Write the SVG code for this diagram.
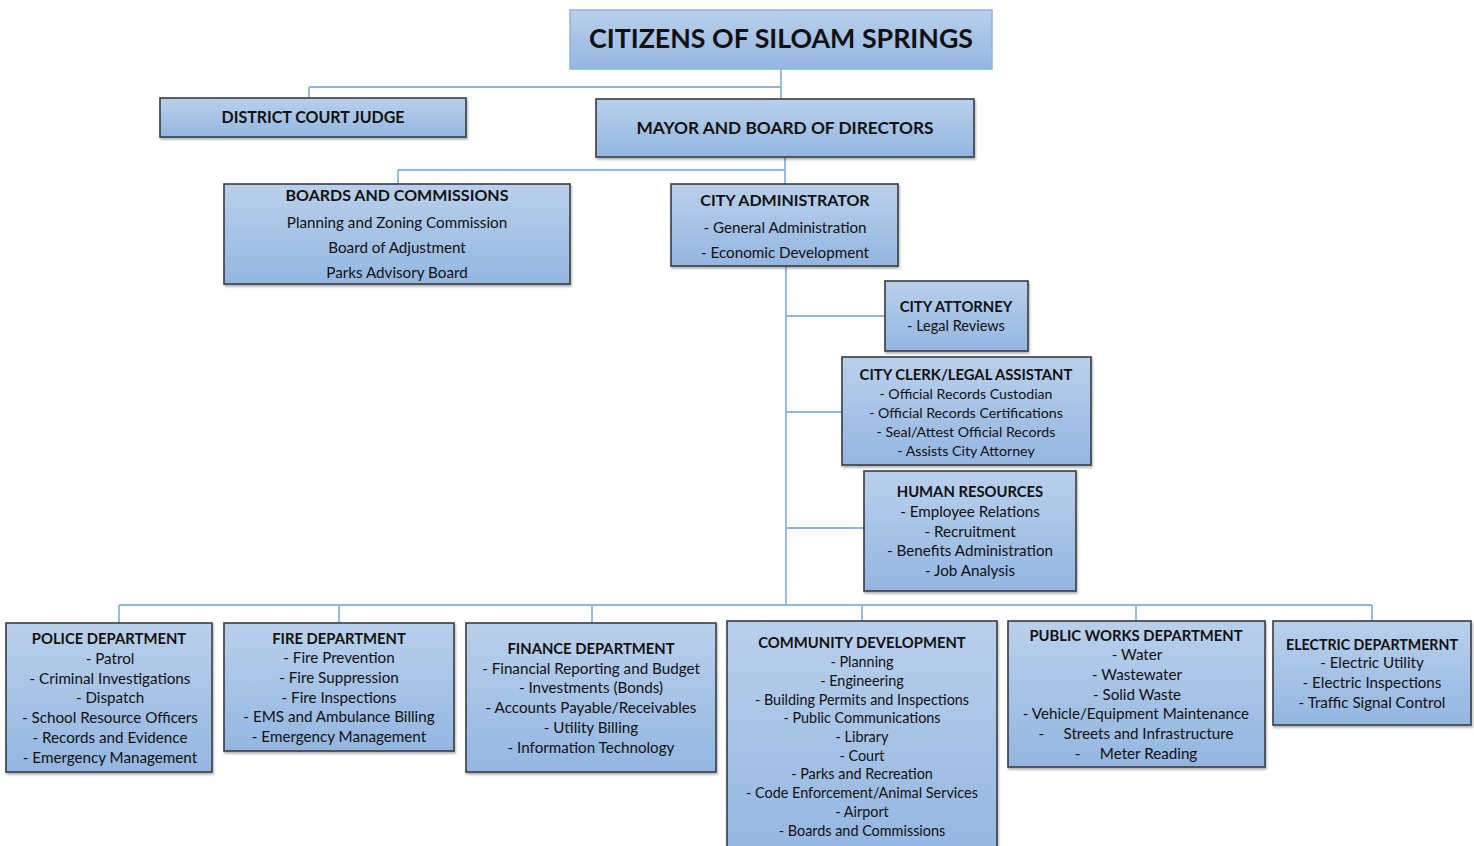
<svg xmlns="http://www.w3.org/2000/svg" width="1474" height="846" viewBox="0 0 1474 846">
<defs>
<linearGradient id="g" x1="0" y1="0" x2="0" y2="1">
<stop offset="0" stop-color="#b9d0ec"/>
<stop offset="1" stop-color="#93b6e1"/>
</linearGradient>
<filter id="sh" x="-5%" y="-5%" width="110%" height="115%">
<feDropShadow dx="1" dy="2" stdDeviation="1.2" flood-color="#000" flood-opacity="0.3"/>
</filter>
</defs>
<style>
.box{fill:url(#g);stroke:#3a3d42;stroke-width:1.6;filter:url(#sh)}
.top{fill:url(#g);stroke:#8db2e0;stroke-width:1.5}
.c{fill:none;stroke:#8cb6e4;stroke-width:1.8}
text{font-family:Lato,"Open Sans","Liberation Sans",sans-serif;fill:#111;text-anchor:middle}
.t{font-weight:bold;font-size:14.8px}
.i{font-size:15.2px}
.h{font-weight:bold;font-size:17px}
</style>
<rect width="1474" height="846" fill="#fff"/>
<g id="connectors">
<path class="c" d="M781 69V87M309 87H781M309 87V98M781 87V99"/>
<path class="c" d="M785 157V170M398 170H785M398 170V184M785 170V184"/>
<path class="c" d="M786 266V605M786 316H885M786 412H842M786 528H864"/>
<path class="c" d="M119 605H1372M119 605V623M339 605V623M592 605V623M862 605V621M1136 605V621M1372 605V621"/>
</g>
<g id="citizens">
<rect class="top" x="570" y="10" width="422" height="59"/>
<text x="781" y="48" style="font-weight:bold;font-size:27px" textLength="384" lengthAdjust="spacingAndGlyphs">CITIZENS OF SILOAM SPRINGS</text>
</g>
<g id="judge">
<rect class="box" x="160" y="98" width="306" height="39"/>
<text class="h" x="313" y="123" textLength="183" lengthAdjust="spacingAndGlyphs">DISTRICT COURT JUDGE</text>
</g>
<g id="mayor">
<rect class="box" x="596" y="99" width="378" height="58"/>
<text class="h" x="785" y="134" textLength="297" lengthAdjust="spacingAndGlyphs">MAYOR AND BOARD OF DIRECTORS</text>
</g>
<g id="boards">
<rect class="box" x="224" y="184" width="346" height="100"/>
<text class="t" x="397" y="201" style="font-size:16px">BOARDS AND COMMISSIONS</text>
<text class="i" x="397" y="228">Planning and Zoning Commission</text>
<text class="i" x="397" y="253">Board of Adjustment</text>
<text class="i" x="397" y="278">Parks Advisory Board</text>
</g>
<g id="administrator">
<rect class="box" x="671" y="184" width="227" height="82"/>
<text class="t" x="785" y="206" style="font-size:16px">CITY ADMINISTRATOR</text>
<text class="i" x="785" y="233">- General Administration</text>
<text class="i" x="785" y="258">- Economic Development</text>
</g>
<g id="attorney">
<rect class="box" x="885" y="281" width="143" height="70"/>
<text class="t" x="956" y="312">CITY ATTORNEY</text>
<text class="i" x="956" y="331" style="font-size:14.5px">- Legal Reviews</text>
</g>
<g id="clerk">
<rect class="box" x="842" y="357" width="249" height="108"/>
<text class="t" x="966" y="380">CITY CLERK/LEGAL ASSISTANT</text>
<text class="i" x="966" y="399" style="font-size:14.2px">- Official Records Custodian</text>
<text class="i" x="966" y="418" style="font-size:14.2px">- Official Records Certifications</text>
<text class="i" x="966" y="437" style="font-size:14.2px">- Seal/Attest Official Records</text>
<text class="i" x="966" y="456" style="font-size:14.2px">- Assists City Attorney</text>
</g>
<g id="hr">
<rect class="box" x="864" y="471" width="212" height="120"/>
<text class="t" x="970" y="497">HUMAN RESOURCES</text>
<text class="i" x="970" y="517">- Employee Relations</text>
<text class="i" x="970" y="537">- Recruitment</text>
<text class="i" x="970" y="556">- Benefits Administration</text>
<text class="i" x="970" y="576">- Job Analysis</text>
</g>
<g id="police">
<rect class="box" x="6" y="623" width="206" height="149"/>
<text class="t" x="109" y="644">POLICE DEPARTMENT</text>
<text class="i" x="110" y="664">- Patrol</text>
<text class="i" x="110" y="684">- Criminal Investigations</text>
<text class="i" x="110" y="703">- Dispatch</text>
<text class="i" x="110" y="723">- School Resource Officers</text>
<text class="i" x="110" y="743">- Records and Evidence</text>
<text class="i" x="110" y="763">- Emergency Management</text>
</g>
<g id="fire">
<rect class="box" x="224" y="623" width="230" height="128"/>
<text class="t" x="339" y="644">FIRE DEPARTMENT</text>
<text class="i" x="339" y="663">- Fire Prevention</text>
<text class="i" x="339" y="683">- Fire Suppression</text>
<text class="i" x="339" y="703">- Fire Inspections</text>
<text class="i" x="339" y="722">- EMS and Ambulance Billing</text>
<text class="i" x="339" y="742">- Emergency Management</text>
</g>
<g id="finance">
<rect class="box" x="466" y="623" width="250" height="149"/>
<text class="t" x="591" y="654">FINANCE DEPARTMENT</text>
<text class="i" x="591" y="674">- Financial Reporting and Budget</text>
<text class="i" x="591" y="693">- Investments (Bonds)</text>
<text class="i" x="591" y="713">- Accounts Payable/Receivables</text>
<text class="i" x="591" y="733">- Utility Billing</text>
<text class="i" x="591" y="753">- Information Technology</text>
</g>
<g id="community">
<rect class="box" x="727" y="621" width="270" height="235"/>
<text class="t" x="862" y="648">COMMUNITY DEVELOPMENT</text>
<text class="i" x="862" y="667" style="font-size:14.4px">- Planning</text>
<text class="i" x="862" y="686" style="font-size:14.4px">- Engineering</text>
<text class="i" x="862" y="705" style="font-size:14.4px">- Building Permits and Inspections</text>
<text class="i" x="862" y="723" style="font-size:14.4px">- Public Communications</text>
<text class="i" x="862" y="742" style="font-size:14.4px">- Library</text>
<text class="i" x="862" y="761" style="font-size:14.4px">- Court</text>
<text class="i" x="862" y="779" style="font-size:14.4px">- Parks and Recreation</text>
<text class="i" x="862" y="798" style="font-size:14.4px">- Code Enforcement/Animal Services</text>
<text class="i" x="862" y="817" style="font-size:14.4px">- Airport</text>
<text class="i" x="862" y="836" style="font-size:14.4px">- Boards and Commissions</text>
</g>
<g id="publicworks">
<rect class="box" x="1008" y="621" width="257" height="146"/>
<text class="t" x="1136" y="641">PUBLIC WORKS DEPARTMENT</text>
<text class="i" x="1137" y="660">- Water</text>
<text class="i" x="1137" y="680">- Wastewater</text>
<text class="i" x="1137" y="700">- Solid Waste</text>
<text class="i" x="1136" y="719">- Vehicle/Equipment Maintenance</text>
<text class="i" x="1136" y="739" xml:space="preserve">-     Streets and Infrastructure</text>
<text class="i" x="1136" y="759" xml:space="preserve">-     Meter Reading</text>
</g>
<g id="electric">
<rect class="box" x="1273" y="621" width="198" height="104"/>
<text class="t" x="1372" y="650" style="font-size:14.2px">ELECTRIC DEPARTMERNT</text>
<text class="i" x="1372" y="668">- Electric Utility</text>
<text class="i" x="1372" y="688">- Electric Inspections</text>
<text class="i" x="1372" y="708">- Traffic Signal Control</text>
</g>
</svg>
